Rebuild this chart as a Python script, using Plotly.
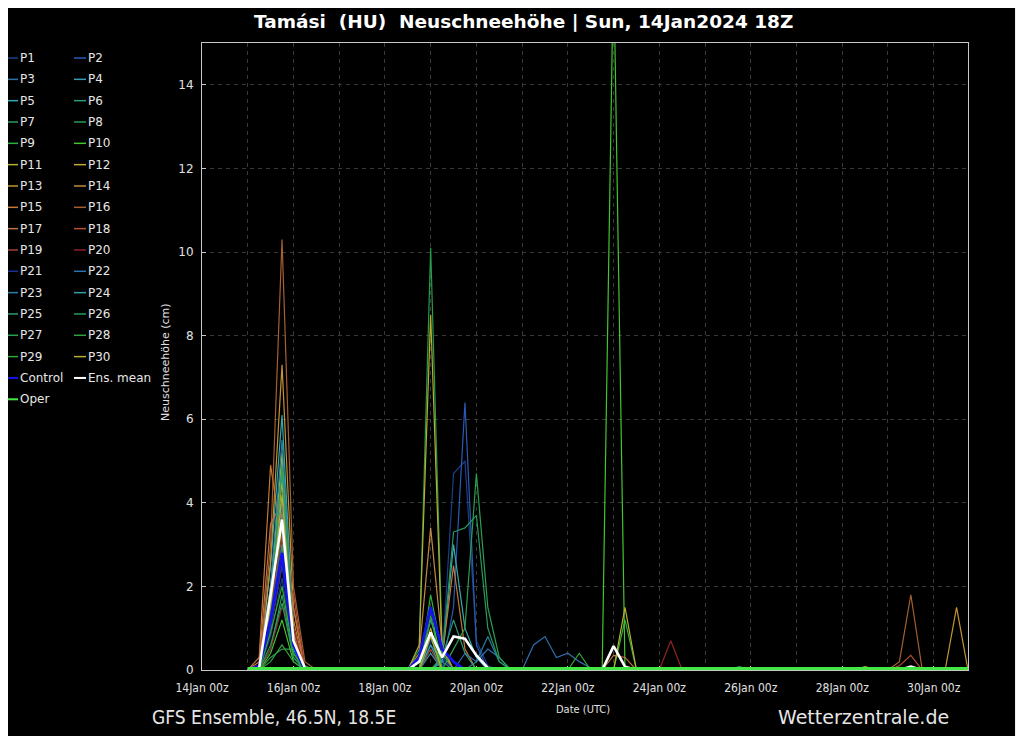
import plotly.graph_objects as go
import pandas as pd
from datetime import datetime

# ---------------- data ----------------
# forecast times: 6-hourly, 15Jan 00Z .. 30Jan 18Z
times = pd.date_range("2024-01-15 00:00", "2024-01-30 18:00", freq="6h")

member_names = ["P%d" % i for i in range(1, 31)]
member_colors = [
    "#1c3c8c", "#2a5ab4", "#2f70a8", "#3a98b0", "#35aab4", "#2a9a80",
    "#2a9a60", "#2a9a4c", "#30b040", "#44c430", "#b4b030", "#c4a834",
    "#c49434", "#c48a44", "#c47a34", "#a46030", "#c47044", "#b45234",
    "#a44030", "#902424", "#1c3294", "#3070b0", "#2a80a0", "#30a0a8",
    "#2a9a78", "#2a9a60", "#2aa050", "#30a040", "#30a830", "#b4b030",
]

# non-zero snowfall values (cm), key = "day/hourZ" in January 2024; all other times are 0
P1 = {"15/12": 0.8, "15/18": 2.2, "16/00": 0.4, "19/06": 0.2, "19/12": 4.7, "19/18": 5.0, "20/00": 0.7, "20/06": 0.1}
P2 = {"15/12": 1.0, "15/18": 3.0, "16/00": 0.5, "19/12": 1.5, "19/18": 6.4, "20/00": 0.6}
P3 = {"15/12": 1.5, "15/18": 4.0, "16/00": 0.8, "19/00": 0.6, "19/06": 0.2}
P4 = {"15/12": 2.0, "15/18": 5.0, "16/00": 1.0, "19/00": 0.4}
P5 = {"15/12": 2.5, "15/18": 6.1, "16/00": 0.9, "19/06": 0.2, "19/12": 3.0, "19/18": 1.0, "20/00": 0.3}
P6 = {"15/12": 1.2, "15/18": 4.6, "16/00": 0.6, "19/00": 1.2, "19/06": 0.3}
P7 = {"15/12": 0.5, "15/18": 1.8, "16/00": 0.3, "19/00": 0.8}
P8 = {"15/12": 0.3, "15/18": 0.5, "16/00": 0.5, "16/06": 0.1, "18/18": 0.5, "19/00": 10.1, "19/06": 0.6}
P9 = {"15/12": 1.0, "15/18": 3.5, "16/00": 0.7, "19/00": 1.8, "19/06": 0.4, "23/06": 1.2}
P10 = {"15/12": 0.4, "15/18": 1.2, "16/00": 0.2, "19/00": 1.5, "23/00": 17.0}
P11 = {"15/12": 1.8, "15/18": 5.2, "16/00": 1.0, "18/18": 0.6, "19/00": 8.5, "19/06": 0.5}
P12 = {"15/12": 2.0, "15/18": 4.5, "16/00": 0.8, "19/00": 1.0, "28/12": 0.08}
P13 = {"15/12": 2.6, "15/18": 7.3, "16/00": 1.5, "30/12": 1.5}
P14 = {"15/12": 1.5, "15/18": 3.8, "16/00": 0.9, "18/18": 0.4, "19/00": 3.4, "19/06": 0.6}
P15 = {"15/06": 0.3, "15/12": 4.9, "15/18": 3.0, "16/00": 1.2, "19/06": 0.3, "19/12": 2.5, "19/18": 0.5}
P16 = {"15/12": 3.0, "15/18": 10.3, "16/00": 2.0, "16/06": 0.2, "29/06": 0.2, "29/12": 1.8}
P17 = {"15/06": 0.2, "15/12": 3.5, "15/18": 4.0, "16/00": 1.5, "23/00": 0.35, "23/06": 0.3}
P18 = {"15/12": 1.0, "15/18": 2.5, "16/00": 1.8, "29/06": 0.1, "29/12": 0.35}
P19 = {"15/12": 1.5, "15/18": 3.2, "16/00": 0.8, "19/00": 0.5}
P20 = {"15/12": 0.5, "15/18": 1.5, "16/00": 1.0, "24/06": 0.7}
P21 = {"15/12": 1.0, "15/18": 2.5, "16/00": 0.5, "19/00": 0.7, "19/06": 0.3}
P22 = {"15/12": 1.6, "15/18": 4.0, "16/00": 0.6, "19/18": 0.4, "20/00": 0.2, "20/06": 0.5, "20/12": 0.3,
       "21/06": 0.6, "21/12": 0.8, "21/18": 0.3, "22/00": 0.4, "22/06": 0.2, "22/12": 0.05}
P23 = {"15/12": 2.0, "15/18": 5.5, "16/00": 0.7, "20/00": 0.2, "20/06": 0.8, "20/12": 0.2}
P24 = {"15/12": 1.8, "15/18": 4.8, "16/00": 0.5, "19/00": 0.6}
P25 = {"15/12": 1.3, "15/18": 3.0, "16/00": 0.4, "19/06": 0.3, "19/12": 1.2, "19/18": 0.4}
P26 = {"15/12": 0.6, "15/18": 1.6, "16/00": 0.3, "19/06": 0.3, "19/12": 3.3, "19/18": 3.4, "20/00": 3.7,
       "20/06": 1.0, "20/12": 0.2, "25/18": 0.08}
P27 = {"15/12": 1.5, "15/18": 4.9, "16/00": 0.6, "19/12": 0.5, "19/18": 1.0, "20/00": 4.7, "20/06": 1.5, "20/12": 0.3}
P28 = {"15/12": 0.2, "15/18": 0.6, "16/00": 0.2, "19/00": 0.9}
P29 = {"15/12": 0.9, "15/18": 2.0, "16/00": 0.4, "19/00": 1.3, "22/06": 0.4}
P30 = {"15/12": 1.5, "15/18": 4.2, "16/00": 0.7, "19/00": 0.8, "23/06": 1.5}

CONTROL = {"15/06": 0.1, "15/12": 1.2, "15/18": 2.8, "16/00": 0.6, "18/18": 0.3, "19/00": 1.5, "19/06": 0.5, "19/12": 0.2}
ENS_MEAN = {"15/06": 0.05, "15/12": 1.8, "15/18": 3.6, "16/00": 0.7, "16/06": 0.05, "18/18": 0.2, "19/00": 0.9,
            "19/06": 0.3, "19/12": 0.8, "19/18": 0.75, "20/00": 0.35, "20/06": 0.05, "23/00": 0.57, "23/06": 0.08,
            "29/12": 0.08}
OPER = {}

members = [P1, P2, P3, P4, P5, P6, P7, P8, P9, P10, P11, P12, P13, P14, P15,
           P16, P17, P18, P19, P20, P21, P22, P23, P24, P25, P26, P27, P28, P29, P30]

special_names = ["Control", "Ens. mean", "Oper"]
special_colors = ["#1414e6", "#ffffff", "#44e844"]
special_widths = [3, 2.6, 6]
special_data = [CONTROL, ENS_MEAN, OPER]

y_ticks = [0, 2, 4, 6, 8, 10, 12, 14]

TITLE = "Tamási\u00a0 (HU)\u00a0 Neuschneehöhe | Sun, 14Jan2024 18Z"


def expand(sparse):
    vals = {}
    for k, v in sparse.items():
        d, h = k.split("/")
        vals[pd.Timestamp(datetime(2024, 1, int(d), int(h)))] = v
    return [vals.get(t, 0.0) for t in times]


# ---------------- figure ----------------
fig = go.Figure()
for name, col, data in zip(member_names, member_colors, members):
    fig.add_trace(go.Scatter(x=times, y=expand(data), mode="lines", name=name,
                             line=dict(color=col, width=1.2), showlegend=False))
for name, col, wd, data in zip(special_names, special_colors, special_widths, special_data):
    fig.add_trace(go.Scatter(x=times, y=expand(data), mode="lines", name=name,
                             line=dict(color=col, width=wd), showlegend=False))

# the page body has an 8px margin -> figure drawn from page (8, 8)
OFF = 8
W, H = 1016, 728
L, R, T, B = 194, 56, 35, 66
PW, PH = W - L - R, H - T - B


def px(x):  # page pixel x -> paper coordinate
    return (x - OFF - L) / PW


def py(y):  # page pixel y -> paper coordinate
    return (H - B - (y - OFF)) / PH


COND = "DejaVu Sans Condensed, Liberation Sans Narrow, Roboto Condensed, DejaVu Sans"

annotations = []
shapes = []

# manual two-column legend
legend_names = member_names + special_names
legend_colors = member_colors + special_colors
for i, (nm, col) in enumerate(zip(legend_names, legend_colors)):
    row, colm = divmod(i, 2)
    yy = 58 + 21.33 * row
    lx0, lx1, tx = (8, 18, 18) if colm == 0 else (74, 86, 86)
    shapes.append(dict(type="line", xref="paper", yref="paper", x0=px(lx0), x1=px(lx1),
                       y0=py(yy), y1=py(yy), line=dict(color=col, width=2 if nm in special_names else 1.5)))
    annotations.append(dict(text=nm, xref="paper", yref="paper", x=px(tx), y=py(yy), xanchor="left",
                            yanchor="middle", showarrow=False,
                            font=dict(family="DejaVu Sans", size=12, color="#e6e6e6")))

annotations += [
    dict(text="<b>" + TITLE + "</b>", xref="paper", yref="paper", x=px(523), y=py(22),
         xanchor="center", yanchor="middle", showarrow=False,
         font=dict(family="DejaVu Sans", size=18.5, color="#ffffff")),
    dict(text="Neuschneehöhe (cm)", xref="paper", yref="paper", x=px(165), y=py(362), textangle=-90,
         xanchor="center", yanchor="middle", showarrow=False,
         font=dict(family="DejaVu Sans", size=11, color="#e0e0e0")),
    dict(text="Date (UTC)", xref="paper", yref="paper", x=px(583), y=py(709),
         xanchor="center", yanchor="middle", showarrow=False,
         font=dict(family=COND, size=11, color="#e0e0e0")),
    dict(text="GFS Ensemble, 46.5N, 18.5E", xref="paper", yref="paper", x=px(150), y=py(717),
         xanchor="left", yanchor="middle", showarrow=False,
         font=dict(family=COND, size=19, color="#e6e6e6")),
    dict(text="Wetterzentrale.de", xref="paper", yref="paper", x=px(951), y=py(717),
         xanchor="right", yanchor="middle", showarrow=False,
         font=dict(family="DejaVu Sans", size=19, color="#e6e6e6")),
]

# light strip on the right edge of the canvas
frame_col = "#f0f0f0"
shapes += [
    dict(type="rect", xref="paper", yref="paper", x0=px(1015), x1=px(1030), y0=py(745), y1=py(0),
         fillcolor=frame_col, line=dict(width=0), layer="above"),
]

grid_col = "#3a3a3a"
fig.update_layout(
    width=W, height=H,
    margin=dict(l=L, r=R, t=T, b=B, pad=0),
    paper_bgcolor="#000000", plot_bgcolor="#000000",
    showlegend=False,
    annotations=annotations, shapes=shapes,
    font=dict(family=COND, color="#e0e0e0"),
)

fig.update_xaxes(
    type="date",
    range=["2024-01-14 00:00", "2024-01-30 18:00"],
    tick0="2024-01-14", dtick=2 * 86400000,
    tickformat="%d%b 00z",
    tickfont=dict(family=COND, size=12, color="#e0e0e0"),
    showgrid=True, gridcolor=grid_col, griddash="4px,4px", gridwidth=1,
    minor=dict(dtick=86400000, tick0="2024-01-14", showgrid=True, gridcolor=grid_col, griddash="4px,4px"),
    showline=True, linecolor="#c8c8c8", linewidth=1, mirror=True,
    ticks="inside", ticklen=4, tickcolor="#c8c8c8",
    ticklabelstandoff=7,
    layer="below traces",
    zeroline=False,
)
fig.update_yaxes(
    range=[0, 15],
    tickvals=y_ticks,
    tickfont=dict(family="DejaVu Sans", size=12, color="#e0e0e0"),
    showgrid=True, gridcolor=grid_col, griddash="4px,4px", gridwidth=1,
    showline=True, linecolor="#c8c8c8", linewidth=1, mirror=True,
    ticks="inside", ticklen=4, tickcolor="#c8c8c8",
    ticklabelstandoff=5,
    layer="below traces",
    zeroline=False,
)

fig.write_html("out.html")
